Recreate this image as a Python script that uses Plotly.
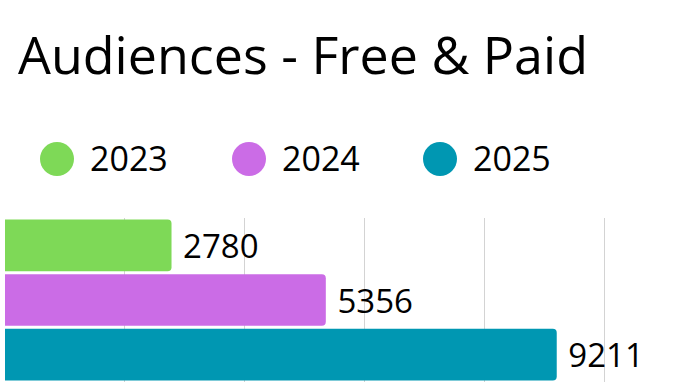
import plotly.graph_objects as go

years = ["2023", "2024", "2025"]
values = [2780, 5356, 9211]
colors = ["#7ED957", "#CB6CE6", "#0097B2"]

W, H = 685, 385
L, R, T, B = 5, 0, 218, 3
pw, ph = W - L - R, H - T - B

FONT = "Open Sans"

fig = go.Figure()
for yr, v, c in zip(years, values, colors):
    fig.add_trace(go.Bar(
        x=[v], y=[yr], orientation="h", name=yr,
        marker=dict(color=c, line=dict(width=0)),
        text=[str(v)], texttemplate="\u00a0%{text}", textposition="outside",
        textfont=dict(size=33, color="#000000", family=FONT),
        cliponaxis=False, showlegend=False,
    ))

def px2x(px):
    return (px - L) / pw

def py2y(py):
    return (H - B - py) / ph

shapes = []
annotations = []
leg_x = [40, 232, 423]
r = 17
cy = 159
for i, (yr, c) in enumerate(zip(years, colors)):
    cx = leg_x[i] + r
    shapes.append(dict(type="circle", xref="paper", yref="paper",
                       x0=px2x(cx - r), x1=px2x(cx + r),
                       y0=py2y(cy + r), y1=py2y(cy - r),
                       fillcolor=c, line=dict(width=0)))
    annotations.append(dict(text=yr, xref="paper", yref="paper",
                            x=px2x(leg_x[i] + 48), y=py2y(158),
                            xanchor="left", yanchor="middle", showarrow=False,
                            font=dict(size=34, color="#000000", family=FONT)))

fig.update_layout(
    width=W, height=H,
    margin=dict(l=L, r=R, t=T, b=B, pad=0),
    paper_bgcolor="white", plot_bgcolor="white",
    barmode="overlay", bargap=0.055, barcornerradius=4,
    title=dict(text="Audiences - Free & Paid", x=18 / W, xanchor="left",
               xref="container", yref="container", y=1 - 56 / H, yanchor="middle",
               font=dict(size=52, color="#000000", family=FONT)),
    xaxis=dict(range=[0, 680 / 0.0599], dtick=2000, showgrid=True,
               gridcolor="#d3d3d3", gridwidth=1, showticklabels=False,
               zeroline=False, showline=False, ticks=""),
    yaxis=dict(autorange="reversed", showticklabels=False, showgrid=False,
               zeroline=False, showline=False, ticks=""),
    shapes=shapes, annotations=annotations,
    showlegend=False,
)

fig.write_html("out.html", config={"displayModeBar": False},
               post_script="document.body.style.margin='0';document.body.style.overflow='hidden';")
